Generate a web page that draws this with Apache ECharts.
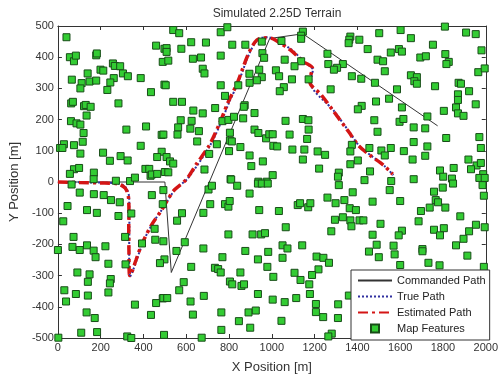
<!DOCTYPE html>
<html>
<head>
<meta charset="utf-8">
<script src="https://cdn.jsdelivr.net/npm/echarts@6/dist/echarts.min.js"></script>
<style>
html,body{margin:0;padding:0;background:#fff;}
#chart{width:501px;height:379px;}
</style>
</head>
<body>
<div id="chart"></div>
<script>
var xTicks = [0,200,400,600,800,1000,1200,1400,1600,1800,2000];
var yTicks = [-500,-400,-300,-200,-100,0,100,200,300,400,500];

var cmdX = [0,500,530,990,1145,1775];
var cmdY = [0,0,-290,460,475,180];

var estX = [0,100,200,280,315,330,332,331,332,335,345,365,395,440,485,515,545,600,650,707,760,795,840,890,930,975,1000,1040,1085,1150,1190,1183,1178,1230,1285,1360,1405,1460,1520,1565];
var estY = [0,-2,-3,-6,-20,-50,-100,-150,-220,-300,-290,-250,-195,-135,-90,-55,-25,8,60,117,195,255,320,410,455,462,460,445,424,385,365,345,320,280,230,160,117,85,55,25];

var trueX = [0,100,200,285,318,333,334,333,336,350,400,445,490,550,605,712,765,800,845,895,935,980,1005,1090,1155,1192,1186,1182,1290,1365,1410,1525,1568];
var trueY = [0,-1,-2,-5,-18,-50,-150,-220,-305,-285,-190,-130,-85,-22,10,118,195,255,322,412,457,464,460,425,383,360,340,318,228,158,115,52,22];

var featX = [40,56,75,84,179,182,199,212,257,266,291,304,327,387,459,498,490,139,65,111,148,179,261,245,105,231,435,498,62,70,122,130,153,283,134,61,87,105,120,116,75,28,10,21,320,412,485,387,105,211,243,293,326,485,464,75,99,56,168,167,271,337,360,409,427,433,439,464,500,
539,567,761,792,508,508,577,623,692,815,876,953,516,631,669,761,956,964,677,685,941,895,953,930,896,843,504,761,781,539,580,873,869,735,919,633,677,574,625,769,797,823,866,562,619,659,559,493,919,937,973,988,1004,804,804,813,651,743,853,707,800,896,904,958,685,516,508,524,539,807,937,976,
1145,1137,1137,1045,1367,1362,1359,1409,1502,1448,1260,1060,1137,1106,1494,1264,1332,1305,1290,1019,1034,1094,1172,1374,1418,1482,1056,1037,1275,1487,1420,1402,1064,1145,1171,1479,1172,1494,1083,1165,1007,1025,1096,1152,1214,1249,1145,1374,1367,1402,1367,1456,1512,1221,1313,1309,1459,1433,1004,
1602,1809,1908,1953,1650,1753,1594,1608,1556,1980,1694,1720,1811,1827,1816,1520,1528,1965,1995,1650,1678,1666,1678,1763,1873,1884,1585,1548,1870,1870,1922,1953,1804,1861,1870,1896,1608,1727,1597,1615,1663,1717,1815,1970,1977,1663,1727,1556,1528,1617,1717,1658,1919,1957,1977,1850,1786,1801,1842,1931,1988,1970,1995,1663,1558,
64,102,168,214,248,289,439,493,490,45,136,182,343,283,25,452,73,314,455,493,393,0,68,102,136,167,176,222,236,316,498,477,91,148,247,243,140,30,84,140,236,38,360,490,459,435,134,172,109,183,324,343,2,496,
704,720,810,838,896,935,953,981,580,557,712,680,781,797,803,941,593,797,910,950,968,554,680,769,876,935,983,623,734,749,761,853,979,1007,588,804,815,858,870,567,682,935,493,511,620,1004,631,764,891,925,846,899,764,672,
1313,1378,1471,1260,1298,1339,1364,1393,1121,1132,1170,1180,1033,1295,1332,1367,1372,1410,1428,1508,1278,1065,1471,1490,1454,1500,1050,1073,1142,1050,1209,1241,1267,1218,1188,1106,1134,1175,1178,1060,1114,1206,1206,1310,1240,1309,1045,1280,1264,1360,
1551,1799,1847,1758,1991,1985,1600,1766,1777,1697,1738,1811,1881,1686,1758,1804,1786,1954,1995,1922,1896,1861,1914,1608,1593,1569,1574,1704,1704,1732,1784,1600,1991,1763,1888];
var featY = [464,400,387,405,406,412,360,357,380,372,371,348,339,333,437,427,385,348,328,317,322,325,333,319,300,295,288,312,252,257,243,247,241,252,213,195,188,184,157,129,118,121,109,109,168,178,151,116,91,94,68,83,69,97,80,41,45,26,30,9,4,3,14,42,42,20,24,26,32,
487,477,480,496,429,417,427,448,447,440,440,450,389,395,399,405,413,398,363,348,360,347,336,326,318,310,310,310,276,257,257,246,241,237,221,229,220,198,196,195,199,209,204,175,171,163,152,152,168,157,140,153,153,158,133,130,130,121,112,90,99,85,51,66,40,31,80,66,59,9,1,1,
482,469,459,452,466,456,445,456,477,426,411,392,387,371,392,378,378,366,360,358,339,329,329,339,331,318,304,291,297,258,244,233,196,202,198,198,168,161,152,138,116,114,104,104,98,87,72,119,98,69,57,109,101,43,30,17,34,6,22,
487,498,479,474,461,440,426,418,415,422,399,403,410,385,378,387,355,352,364,342,336,323,315,307,318,315,297,267,281,263,291,249,228,239,220,212,239,210,193,202,175,172,141,144,109,128,114,109,85,99,84,72,72,53,61,45,37,17,11,41,25,13,13,9,3,
-8,-34,-39,-42,-58,-65,-42,-26,-71,-77,-90,-99,-101,-109,-126,-150,-176,-176,-185,-190,-197,-218,-208,-218,-203,-220,-241,-206,-262,-264,-248,-260,-290,-296,-311,-325,-320,-347,-359,-364,-354,-383,-393,-373,-388,-426,-418,-436,-483,-481,-495,-500,-499,-490,
-24,-12,8,-12,-37,-5,-5,-5,-100,-124,-71,-99,-71,-79,-61,-90,-193,-168,-168,-168,-164,-221,-213,-241,-221,-248,-224,-272,-275,-279,-290,-290,-272,-304,-321,-319,-328,-333,-328,-347,-365,-359,-372,-372,-383,-377,-425,-418,-418,-412,-446,-467,-474,-499,
-10,-33,-63,-50,-68,-58,-84,-90,-74,-68,-81,-68,-93,-121,-113,-123,-142,-123,-123,-134,-158,-145,-169,-201,-223,-241,-203,-213,-203,-243,-239,-243,-259,-280,-298,-291,-314,-328,-359,-385,-372,-391,-417,-392,-433,-436,-445,-486,-495,-364,
-26,-18,-5,-31,-44,-10,-61,-58,-65,-93,-82,-82,-110,-126,-153,-148,-171,-137,-145,-158,-182,-203,-236,-156,-171,-204,-232,-215,-222,-259,-267,-266,-272,-483,-483];

var legendNames = ['Commanded Path','True Path','Estimated Path','Map Features'];

function pairs(xs, ys){ var o=[]; for(var i=0;i<xs.length;i++) o.push([xs[i], ys[i]]); return o; }

var chart = echarts.init(document.getElementById('chart'), null, {renderer:'canvas'});
var font = 'Liberation Sans, Arial, sans-serif';
var axisCol = '#333';
var hiddenSym = {color:'rgba(0,0,0,0)', borderColor:'rgba(0,0,0,0)', borderWidth:0};
var option = {
  animation:false,
  backgroundColor:'#fff',
  title:{text:'Simulated 2.25D Terrain', left:272, top:3, textAlign:'center',
    textStyle:{fontFamily:font, fontSize:12, fontWeight:'normal', color:'#333'}},
  grid:{left:54.5, right:11, top:26, bottom:38, show:false},
  xAxis:[{type:'value', min:0, max:2000, interval:200, position:'bottom',
    name:'X Position [m]', nameLocation:'middle', nameGap:23,
    nameTextStyle:{fontFamily:font, fontSize:13, color:'#333'},
    axisLine:{show:true, onZero:false, lineStyle:{color:axisCol, width:1}},
    axisTick:{show:true, inside:true, length:4, lineStyle:{color:axisCol}},
    axisLabel:{fontFamily:font, fontSize:11, color:'#333', margin:4,
      formatter:function(v){ return xTicks.indexOf(v)>=0 ? String(v) : ''; }},
    splitLine:{show:false}},
   {type:'value', min:0, max:2000, interval:200, position:'top',
    axisLine:{show:true, onZero:false, lineStyle:{color:axisCol, width:1}},
    axisTick:{show:true, inside:true, length:4, lineStyle:{color:axisCol}},
    axisLabel:{show:false}, splitLine:{show:false}}],
  yAxis:[{type:'value', min:-500, max:500, interval:100, position:'left',
    name:'Y Position [m]', nameLocation:'middle', nameGap:26, nameRotate:90,
    nameTextStyle:{fontFamily:font, fontSize:13, color:'#333'},
    axisLine:{show:true, onZero:false, lineStyle:{color:axisCol, width:1}},
    axisTick:{show:true, inside:true, length:4, lineStyle:{color:axisCol}},
    axisLabel:{fontFamily:font, fontSize:11, color:'#333', margin:4,
      formatter:function(v){ return yTicks.indexOf(v)>=0 ? String(v) : ''; }},
    splitLine:{show:false}},
   {type:'value', min:-500, max:500, interval:100, position:'right',
    axisLine:{show:true, onZero:false, lineStyle:{color:axisCol, width:1}},
    axisTick:{show:true, inside:true, length:4, lineStyle:{color:axisCol}},
    axisLabel:{show:false}, splitLine:{show:false}}],
  legend:{orient:'vertical', left:351, top:270, z:20,
    backgroundColor:'#fff', borderColor:'#333', borderWidth:1,
    padding:[5,4,6,6], itemGap:5, itemWidth:34, itemHeight:8, symbolKeepAspect:true,
    textStyle:{fontFamily:font, fontSize:11, color:'#222'},
    data:[
      {name:legendNames[0], itemStyle:hiddenSym},
      {name:legendNames[1], itemStyle:hiddenSym},
      {name:legendNames[2], itemStyle:hiddenSym},
      {name:legendNames[3], icon:'path://M0,0L10,0L10,10L0,10Z'}
    ]},
  series:[
    {name:legendNames[0], type:'line', data:pairs(cmdX,cmdY), symbol:'none',
      lineStyle:{color:'#333', width:1}, itemStyle:{color:'#333'}, z:2},
    {name:legendNames[1], type:'line', data:pairs(trueX,trueY), symbol:'none', smooth:0.3,
      lineStyle:{color:'#3030a0', width:2, type:[2,2]}, itemStyle:{color:'#3030a0'}, z:3},
    {name:legendNames[2], type:'line', data:pairs(estX,estY), symbol:'none', smooth:0.3,
      lineStyle:{color:'#d41515', width:3.5, type:[10,4,3,4]}, itemStyle:{color:'#d41515'}, z:4},
    {name:legendNames[3], type:'scatter', data:pairs(featX,featY), symbol:'rect', symbolSize:7,
      itemStyle:{color:'#33cc33', borderColor:'#184d18', borderWidth:1, opacity:1}, z:5}
  ]
};
chart.setOption(option);
</script>
</body>
</html>
